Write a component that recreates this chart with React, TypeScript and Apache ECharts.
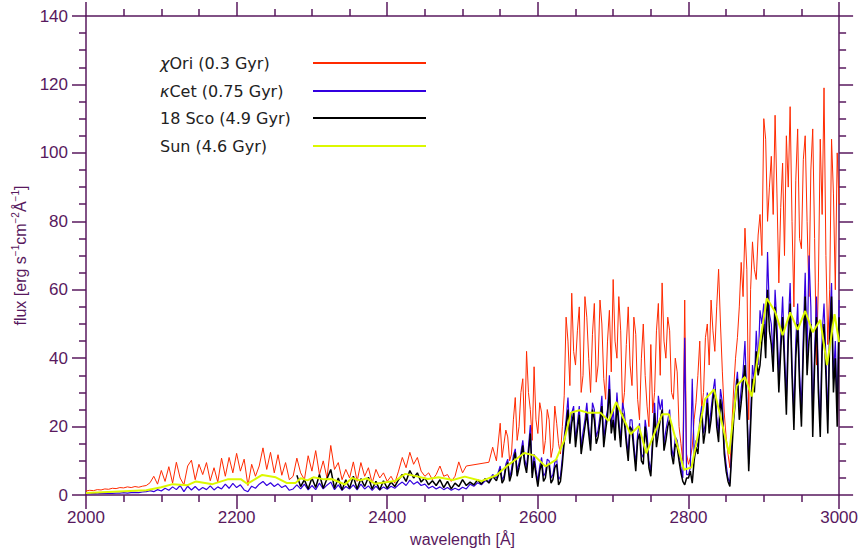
import React, { useEffect, useRef } from 'react';
import * as echarts from 'echarts';

// Sampling grids of the spectra (Å): coarse part 2000–2545 at 5 Å, fine part 2550–3000 at 2.5 Å
const UV_START = 2000;
const UV_STEP = 5;
const SCO_UV_START = 2280;
const NUV_START = 2550;
const NUV_STEP = 2.5;

// χ Ori (0.3 Gyr) — red. null = no data (gap bridged by a straight segment)
const chiOriUV = [
  1.2, 1.4, 1.3, 1.6, 1.5, 1.8, 1.7, 2.0, 1.9, 2.2, 2.1, 2.4, 2.2, 2.5, 2.3, 2.6, 2.8, 3.6, 5.5, 3.2,
  7.2, 4.0, 8.3, 3.5, 9.6, 5.0, 3.0, 8.5, 10.2, 4.5, 9.0, 6.0, 9.5, 4.2, 8.0, 3.8, 10.8, 5.5, 11.0, 6.5,
  12.2, 7.0, 10.5, 2.8, 9.0, 5.5, 8.5, 13.8, 7.5, 12.5, 6.5, 11.8, 5.8, 9.5, 4.5, 5.5, 10.8, 6.5, 4.5, 11.5,
  7.0, 13.0, 6.0, 10.0, 5.0, 14.5, 7.5, 9.5, 4.5, 7.5, 5.0, 9.7, 4.0, 9.5, 5.5, 8.0, 3.5, 7.5, 5.0, 6.5,
  4.0, 5.5, 3.5, 7.0, 11.0, 8.0, 12.5, 9.0, 11.0, 7.0, 5.5, 6.5, 4.5, 6.0, 8.5, 5.5, 6.0, 4.0, 5.5, 9.7,
  6.5, 8.5, null, null, null, null, null, 9.6, 14.0, 10.0,
];
const chiOriNUV = [
  21, 11, 15, 19, 17, 10, 12, 22, 28.5, 16, 20, 30, 34, 18, 42, 30, 25, 16, 37.5, 22,
  18, 27, 24, 12, 16, 25, 22, 11, 14, 26, 21, 15, 12, 20, 29, 52, 45, 32, 59, 42,
  38, 48, 55, 30, 35, 58, 52, 40, 30, 47, 56, 33, 38, 57, 50, 34, 28, 45, 54, 36,
  63, 45, 40, 58, 48, 25, 30, 44, 55, 38, 32, 52, 47, 28, 22, 40, 50, 35, 26, 20,
  44, 24, 30, 48, 56, 35, 62, 45, 40, 52, 48, 30, 28, 40, 36, 20, 15, 10, 57, 12,
  9, 11, 14, 22, 27, 35, 45, 25, 30, 46, 50, 38, 57, 48, 42, 55, 66, 50, 36, 24,
  17, 12, 8, 20, 31, 40, 46, 55, 68, 58, 78, 66, 22, 60, 74, 66, 63, 76, 82, 70,
  110, 104, 80, 90, 99, 82, 111, 88, 62, 84, 97, 70, 105, 90, 113.5, 80, 55, 92, 107, 75,
  72, 98, 105, 80, 58, 95, 107, 75, 38, 62, 104, 82, 119, 70, 44, 60, 104, 88, 60, 100, 85,
];

// κ Cet (0.75 Gyr) — blue
const kapCetUV = [
  0.4, 0.4, 0.5, 0.4, 0.5, 0.5, 0.6, 0.5, 0.6, 0.6, 0.7, 0.6, 0.7, 0.8, 0.7, 0.9, 1.0, 1.3, 1.0, 1.6,
  1.2, 2.0, 1.4, 2.4, 1.6, 2.8, 1.0, 2.6, 1.5, 2.5, 1.4, 2.2, 1.6, 2.7, 1.5, 2.4, 1.8, 3.2, 2.0, 3.4,
  2.2, 3.0, 1.5, 1.0, 2.6, 2.0, 3.2, 4.0, 2.8, 3.6, 2.5, 3.3, 2.2, 2.8, 1.4, 1.8, 3.0, 1.8, 3.2, 1.5,
  2.8, 1.6, 3.5, 1.8, 2.9, 3.8, 1.6, 3.0, 1.4, 2.5, 1.8, 3.0, 1.5, 3.2, 1.8, 2.7, 1.4, 2.6, 1.5, 2.4,
  1.7, 2.6, 2.0, 3.0, 3.8, 2.8, 4.4, 3.2, 3.9, 2.8, 3.2, 2.0, 2.6, 1.8, 2.4, 1.6, 2.2, 1.4, 2.0, 1.5,
  2.3, 1.8, 3.2, 2.6, 3.6, 3.0, 4.2, 4.0, 6.0, 5.0,
];
const kapCetNUV = [
  8.5, 4.5, 5.5, 9, 10.5, 5, 7.5, 11.5, 13.5, 7, 9.5, 12.5, 16, 10.5, 8, 14, 20.5, 6.5, 12, 7.5,
  4, 8.5, 11, 5.5, 6.5, 10.5, 10, 5, 6, 9.5, 10.5, 4.5, 5.5, 11, 17, 22, 28.5, 17, 24, 26,
  16, 21, 26, 14, 18.5, 22, 27, 20, 15, 27, 25, 17, 19, 23, 29, 16, 22, 25, 35, 20,
  25, 18, 30, 22, 16, 27, 24, 17, 12, 22, 22, 15, 9, 18, 21, 12, 11, 22, 18, 10,
  7, 17, 27, 16, 29, 25, 28, 15, 19, 22, 25, 14, 11, 17, 16, 12, 8, 5, 46, 6,
  6, 8, 34, 12, 16, 14, 22, 26, 18, 21, 30, 20, 25, 30, 34, 23, 18, 31, 27, 14,
  9, 5, 3.5, 14, 25, 31, 36, 25, 31, 36, 45, 28, 9, 23, 38, 33, 48, 38, 54, 50,
  56, 45, 71, 53, 50, 40, 60, 50, 35, 46, 58, 42, 28, 50, 62, 38, 24, 45, 56, 36,
  25, 47, 65, 40, 70, 55, 22, 42, 58, 34, 20, 47, 56, 40, 22, 50, 62, 34, 45, 24, 57,
];

// 18 Sco (4.9 Gyr) — black, starts at 2280 Å
const sco18UV = [
  5.8, 2.5, 4.5, 1.8,
  5.0, 2.2, 6.0, 2.0, 4.8, 7.5, 2.0, 5.0, 1.5, 4.5, 2.0, 5.5, 1.8, 4.8, 2.5, 5.2, 1.8, 4.0, 1.5, 4.2,
  2.0, 3.8, 2.5, 4.5, 6.0, 4.0, 7.2, 5.0, 6.5, 3.8, 5.0, 3.0, 4.2, 2.8, 4.5, 2.2, 4.0, 1.8, 3.5, 2.5,
  4.5, 2.8, 3.8, 3.0, 4.5, 3.2, 4.8, 3.5, 5.5, 4.2,
];
const sco18NUV = [
  7.5, 3.5, 4.5, 8, 9.5, 4, 6, 10, 12.5, 5.5, 8, 11, 14.5, 9, 6.5, 12, 18, 5, 10, 6,
  2.5, 7, 9.5, 4, 5, 9, 8.5, 3.5, 4.5, 8, 9, 3, 4, 9, 15.5, 20, 25, 15, 21, 24,
  14, 19, 23.5, 12, 16, 20, 24, 18, 13, 25, 22, 15, 17, 21, 26, 14, 19, 23, 31, 18,
  22, 16, 27, 20, 14, 24, 21, 15, 10, 20, 19, 13, 7, 16, 18, 10, 9, 20, 15, 8,
  5.5, 15, 24, 14, 18, 22, 25, 13, 16, 20, 22, 12, 9, 15, 14, 10, 6.5, 4, 3, 5,
  5, 7, 3.5, 10, 14, 12, 20, 24, 15, 19, 27, 18, 22, 28, 31, 20, 15.5, 28, 24, 12,
  7, 4, 2.5, 12, 22, 28, 34, 22, 27, 33, 38, 25, 7, 20, 34, 30, 42, 35, 38, 45,
  50, 40, 60, 48, 44, 36, 55, 45, 30, 42, 52, 38, 23.5, 45, 56, 35, 19, 40, 50, 32,
  20, 42, 58, 35, 45, 50, 17, 38, 52, 30, 17, 42, 50, 35, 18, 45, 58, 30, 40, 20, 52,
];

// Sun (4.6 Gyr) — yellow, lower resolution
const sunWl = [
  2000, 2080, 2100, 2115, 2135, 2146, 2168, 2188, 2206, 2214, 2234, 2252, 2267, 2278, 2285, 2294, 2302,
  2316, 2326, 2344, 2353, 2364, 2373, 2384, 2410, 2424, 2441, 2454, 2468, 2487, 2503, 2525, 2545, 2560,
  2582, 2595, 2610, 2624, 2635, 2644, 2655, 2666, 2683, 2694, 2704, 2723, 2734, 2744, 2765, 2774, 2794,
  2804, 2822, 2834, 2854, 2864, 2875, 2884, 2904, 2915, 2925, 2935, 2945, 2955, 2965, 2975, 2984, 2994, 3000,
];
const sunFlux = [
  0.6, 1.4, 2.3, 3.2, 2.9, 4.0, 3.2, 4.6, 4.6, 3.3, 5.9, 5.2, 3.5, 3.5, 4.9, 4.3, 5.2,
  4.6, 4.7, 3.1, 5.0, 4.3, 4.9, 3.3, 4.1, 6.2, 5.4, 4.7, 5.2, 4.4, 5.4, 4.1, 5.8, 8.7,
  12.3, 11.6, 8.4, 10.3, 16.0, 24.1, 24.8, 24.1, 24.1, 21.7, 27.2, 17.8, 20.2, 12.2, 23.6, 23.6, 7.4,
  8.1, 28.0, 30.9, 12.0, 31.9, 34.5, 28.8, 57.5, 53.6, 46.7, 53.4, 48.3, 53.8, 47.6, 51.2, 38.0, 52.9, 44.7,
];

const legendNames = ['{g|χ}Ori (0.3 Gyr)', '{g|κ}Cet (0.75 Gyr)', '18 Sco (4.9 Gyr)', 'Sun (4.6 Gyr)'];
const seriesColors = ['#ff2a00', '#3300e0', '#000000', '#dcf800'];

const sampled = (vals: (number | null)[], start: number, step: number) =>
  vals.map((v, i) => [start + i * step, v] as [number, number | null]).filter((p) => p[1] !== null);

const spectrum = (uv: (number | null)[], uvStart: number, nuv: number[]) => [
  ...sampled(uv, uvStart, UV_STEP),
  ...sampled(nuv, NUV_START, NUV_STEP),
];

export default function App() {
  const ref = useRef<HTMLDivElement>(null);

  useEffect(() => {
    document.body.style.margin = '0';
    if (!ref.current) return;
    const chart = echarts.init(ref.current, null, { renderer: 'svg' });
    const axisColor = '#58195e';
    const labelFont = '"Liberation Sans", Arial, Helvetica, sans-serif';
    const legendFont = '"DejaVu Sans", Verdana, sans-serif';

    const baseX = {
      type: 'value',
      min: 2000,
      max: 3000,
      interval: 200,
      axisLine: { show: true, onZero: false, lineStyle: { color: axisColor, width: 1.5 } },
      axisTick: { show: true, inside: false, length: 14, lineStyle: { color: axisColor, width: 1.5 } },
      minorTick: { show: true, splitNumber: 4, length: 7, lineStyle: { color: axisColor, width: 1.5 } },
      splitLine: { show: false },
      minorSplitLine: { show: false },
    };
    const baseY = {
      type: 'value',
      min: 0,
      max: 140,
      interval: 20,
      axisLine: { show: true, onZero: false, lineStyle: { color: axisColor, width: 1.5 } },
      axisTick: { show: true, inside: false, length: 14, lineStyle: { color: axisColor, width: 1.5 } },
      minorTick: { show: true, splitNumber: 4, length: 7, lineStyle: { color: axisColor, width: 1.5 } },
      splitLine: { show: false },
      minorSplitLine: { show: false },
    };

    const legendY = [63, 91, 118, 146];
    const graphics: any[] = [];
    legendNames.forEach((name, i) => {
      graphics.push({
        type: 'text',
        x: 160,
        y: legendY[i],
        style: {
          text: name,
          fill: '#222222',
          fontSize: 16,
          fontFamily: legendFont,
          verticalAlign: 'middle',
          align: 'left',
          rich: {
            g: { fontSize: 16, fontStyle: 'italic', fontFamily: legendFont, fill: '#222222' },
          },
        },
      });
      graphics.push({
        type: 'line',
        shape: { x1: 313, y1: legendY[i], x2: 426, y2: legendY[i] },
        style: { stroke: seriesColors[i], lineWidth: 2 },
      });
    });

    chart.setOption({
      animation: false,
      backgroundColor: '#ffffff',
      grid: { left: 86, right: 18, top: 16, bottom: 54, containLabel: false },
      xAxis: [
        {
          ...baseX,
          position: 'bottom',
          axisLabel: {
            color: axisColor,
            fontSize: 17,
            fontFamily: labelFont,
            margin: 14,
            formatter: (v: number) => String(v),
          },
          name: 'wavelength [Å]',
          nameLocation: 'middle',
          nameGap: 35,
          nameTextStyle: { color: axisColor, fontSize: 16, fontFamily: labelFont },
        },
        { ...baseX, position: 'top', axisLabel: { show: false } },
      ],
      yAxis: [
        {
          ...baseY,
          position: 'left',
          axisLabel: {
            color: axisColor,
            fontSize: 17,
            fontFamily: labelFont,
            margin: 18,
            formatter: (v: number) => String(v),
          },
          name: '{n|flux [erg s}{s|−1}{n|cm}{s|−2}{n|Å}{s|−1}{n|]}',
          nameLocation: 'middle',
          nameGap: 58,
          nameTextStyle: {
            color: axisColor,
            fontSize: 16,
            fontFamily: labelFont,
            rich: {
              n: { fontSize: 16, fontFamily: labelFont, color: axisColor, lineHeight: 18, verticalAlign: 'bottom' },
              s: { fontSize: 10, fontFamily: labelFont, color: axisColor, lineHeight: 18, verticalAlign: 'top' },
            },
          },
        },
        { ...baseY, position: 'right', axisLabel: { show: false } },
      ],
      series: [
        {
          type: 'line',
          name: 'chiOri',
          data: spectrum(chiOriUV, UV_START, chiOriNUV),
          showSymbol: false,
          lineStyle: { color: seriesColors[0], width: 1 },
          z: 1,
        },
        {
          type: 'line',
          name: 'kapCet',
          data: spectrum(kapCetUV, UV_START, kapCetNUV),
          showSymbol: false,
          lineStyle: { color: seriesColors[1], width: 1.2 },
          z: 2,
        },
        {
          type: 'line',
          name: '18Sco',
          data: spectrum(sco18UV, SCO_UV_START, sco18NUV),
          showSymbol: false,
          lineStyle: { color: seriesColors[2], width: 1.5 },
          z: 3,
        },
        {
          type: 'line',
          name: 'Sun',
          data: sunWl.map((w, i) => [w, sunFlux[i]]),
          showSymbol: false,
          lineStyle: { color: seriesColors[3], width: 2 },
          z: 4,
        },
      ],
      graphic: graphics,
    });

    return () => chart.dispose();
  }, []);

  return <div ref={ref} style={{ width: 861, height: 552 }} />;
}
